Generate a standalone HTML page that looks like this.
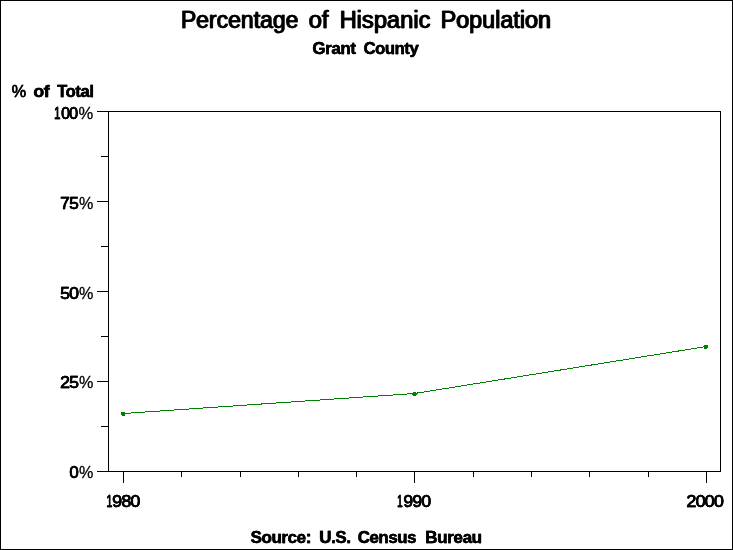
<!DOCTYPE html>
<html>
<head>
<meta charset="utf-8">
<title>Percentage of Hispanic Population</title>
<style>
html,body{margin:0;padding:0;background:#fff;}
body{width:733px;height:550px;overflow:hidden;position:relative;font-family:"Liberation Sans",sans-serif;}
svg{position:absolute;left:0;top:0;display:block;}
text{font-family:"Liberation Sans",sans-serif;fill:#000;stroke-linejoin:round;}
.t{font-size:23.3px;stroke:#000;stroke-width:0.5px;}
.b{font-size:16.5px;font-weight:bold;stroke:#000;stroke-width:0.3px;letter-spacing:-0.4px;}
.n{font-size:16.5px;stroke:#000;stroke-width:0.5px;letter-spacing:-0.8px;}
.p{font-size:16.5px;stroke:#000;stroke-width:0.35px;}
.q{font-size:16.5px;stroke:#000;stroke-width:0.3px;}
</style>
</head>
<body>
<svg width="733" height="550" viewBox="0 0 733 550">
  <defs><filter id="gs" x="0" y="0" width="733" height="550" filterUnits="userSpaceOnUse" color-interpolation-filters="sRGB"><feColorMatrix type="saturate" values="0"/></filter></defs>
  <!-- outer border -->
  <rect x="0.5" y="0.5" width="732" height="549" fill="#fff" stroke="#000" stroke-width="1" shape-rendering="crispEdges"/>
  <!-- plot frame and ticks -->
  <g stroke="#000" stroke-width="1" fill="none" shape-rendering="crispEdges">
    <rect x="108.5" y="111.5" width="612" height="360"/>
    <path d="M97 111.5H108 M97 201.5H108 M97 291.5H108 M97 381.5H108 M97 471.5H108"/>
    <path d="M101 156.5H108 M101 246.5H108 M101 336.5H108 M101 426.5H108"/>
    <path d="M123.5 472V483 M414.5 472V483 M706.5 472V483"/>
    <path d="M181.5 472V477 M240.5 472V477 M298.5 472V477 M356.5 472V477 M473.5 472V477 M531.5 472V477 M589.5 472V477 M648.5 472V477"/>
  </g>
  <!-- data line and markers -->
  <g shape-rendering="crispEdges">
    <polyline points="123.5,413.5 414.5,393.5 706.5,346.5" fill="none" stroke="#008000" stroke-width="1"/>
    <path fill="#008000" d="M121 412h4v4h-3v-1h-1z M413 392h3v1h1v2h-1v1h-3v-1h-1v-2h1z M704 345h4v3h-1v1h-3z"/>
  </g>
  <g filter="url(#gs)">
  <text class="t" x="180.42" y="28.00" textLength="117.71" lengthAdjust="spacingAndGlyphs">Percentage</text>
  <text class="t" x="181.22" y="28.00" textLength="117.71" lengthAdjust="spacingAndGlyphs">Percentage</text>
  <text class="t" x="308.24" y="28.00" textLength="19.92" lengthAdjust="spacingAndGlyphs">of</text>
  <text class="t" x="309.04" y="28.00" textLength="19.92" lengthAdjust="spacingAndGlyphs">of</text>
  <text class="t" x="339.18" y="28.00" textLength="90.84" lengthAdjust="spacingAndGlyphs">Hispanic</text>
  <text class="t" x="339.98" y="28.00" textLength="90.84" lengthAdjust="spacingAndGlyphs">Hispanic</text>
  <text class="t" x="440.27" y="28.00" textLength="110.33" lengthAdjust="spacingAndGlyphs">Population</text>
  <text class="t" x="441.07" y="28.00" textLength="110.33" lengthAdjust="spacingAndGlyphs">Population</text>
  <text class="b" x="312.27" y="54.00" textLength="43.24" lengthAdjust="spacingAndGlyphs">Grant</text>
  <text class="b" x="312.57" y="54.00" textLength="43.24" lengthAdjust="spacingAndGlyphs">Grant</text>
  <text class="b" x="363.41" y="54.00" textLength="54.81" lengthAdjust="spacingAndGlyphs">County</text>
  <text class="b" x="363.71" y="54.00" textLength="54.81" lengthAdjust="spacingAndGlyphs">County</text>
  <text class="p" x="11.49" y="97.00" textLength="14.54" lengthAdjust="spacingAndGlyphs">%</text>
  <text class="p" x="11.64" y="97.00" textLength="14.54" lengthAdjust="spacingAndGlyphs">%</text>
  <text class="b" x="33.25" y="97.00" textLength="15.83" lengthAdjust="spacingAndGlyphs">of</text>
  <text class="b" x="33.55" y="97.00" textLength="15.83" lengthAdjust="spacingAndGlyphs">of</text>
  <text class="b" x="57.05" y="97.00" textLength="36.31" lengthAdjust="spacingAndGlyphs">Total</text>
  <text class="b" x="57.35" y="97.00" textLength="36.31" lengthAdjust="spacingAndGlyphs">Total</text>
  <text class="n" x="54.04" y="119.00" textLength="5.78" lengthAdjust="spacingAndGlyphs">1</text>
  <text class="n" x="54.29" y="119.00" textLength="5.78" lengthAdjust="spacingAndGlyphs">1</text>
  <text class="n" x="60.92" y="119.00" textLength="16.36" lengthAdjust="spacingAndGlyphs">00</text>
  <text class="n" x="61.17" y="119.00" textLength="16.36" lengthAdjust="spacingAndGlyphs">00</text>
  <text class="q" x="78.49" y="119.00" textLength="14.73" lengthAdjust="spacingAndGlyphs">%</text>
  <text class="n" x="60.03" y="209.00" textLength="17.77" lengthAdjust="spacingAndGlyphs">75</text>
  <text class="n" x="60.28" y="209.00" textLength="17.77" lengthAdjust="spacingAndGlyphs">75</text>
  <text class="q" x="79.07" y="209.00" textLength="14.35" lengthAdjust="spacingAndGlyphs">%</text>
  <text class="n" x="59.97" y="299.00" textLength="17.97" lengthAdjust="spacingAndGlyphs">50</text>
  <text class="n" x="60.22" y="299.00" textLength="17.97" lengthAdjust="spacingAndGlyphs">50</text>
  <text class="q" x="79.07" y="299.00" textLength="14.35" lengthAdjust="spacingAndGlyphs">%</text>
  <text class="n" x="59.91" y="388.00" textLength="17.96" lengthAdjust="spacingAndGlyphs">25</text>
  <text class="n" x="60.16" y="388.00" textLength="17.96" lengthAdjust="spacingAndGlyphs">25</text>
  <text class="q" x="79.07" y="388.00" textLength="14.35" lengthAdjust="spacingAndGlyphs">%</text>
  <text class="n" x="69.16" y="478.00" textLength="8.55" lengthAdjust="spacingAndGlyphs">0</text>
  <text class="n" x="69.41" y="478.00" textLength="8.55" lengthAdjust="spacingAndGlyphs">0</text>
  <text class="q" x="79.07" y="478.00" textLength="14.35" lengthAdjust="spacingAndGlyphs">%</text>
  <text class="n" x="106.31" y="507.00" textLength="5.55" lengthAdjust="spacingAndGlyphs">1</text>
  <text class="n" x="106.56" y="507.00" textLength="5.55" lengthAdjust="spacingAndGlyphs">1</text>
  <text class="n" x="112.00" y="507.00" textLength="27.41" lengthAdjust="spacingAndGlyphs">980</text>
  <text class="n" x="112.25" y="507.00" textLength="27.41" lengthAdjust="spacingAndGlyphs">980</text>
  <text class="n" x="397.09" y="507.00" textLength="5.03" lengthAdjust="spacingAndGlyphs">1</text>
  <text class="n" x="397.34" y="507.00" textLength="5.03" lengthAdjust="spacingAndGlyphs">1</text>
  <text class="n" x="403.38" y="507.00" textLength="26.74" lengthAdjust="spacingAndGlyphs">990</text>
  <text class="n" x="403.63" y="507.00" textLength="26.74" lengthAdjust="spacingAndGlyphs">990</text>
  <text class="n" x="686.33" y="507.00" textLength="36.58" lengthAdjust="spacingAndGlyphs">2000</text>
  <text class="n" x="686.58" y="507.00" textLength="36.58" lengthAdjust="spacingAndGlyphs">2000</text>
  <text class="b" x="250.44" y="543.00" textLength="60.42" lengthAdjust="spacingAndGlyphs">Source:</text>
  <text class="b" x="250.74" y="543.00" textLength="60.42" lengthAdjust="spacingAndGlyphs">Source:</text>
  <text class="b" x="319.12" y="543.00" textLength="31.32" lengthAdjust="spacingAndGlyphs">U.S.</text>
  <text class="b" x="319.42" y="543.00" textLength="31.32" lengthAdjust="spacingAndGlyphs">U.S.</text>
  <text class="b" x="357.62" y="543.00" textLength="58.28" lengthAdjust="spacingAndGlyphs">Census</text>
  <text class="b" x="357.92" y="543.00" textLength="58.28" lengthAdjust="spacingAndGlyphs">Census</text>
  <text class="b" x="425.02" y="543.00" textLength="56.56" lengthAdjust="spacingAndGlyphs">Bureau</text>
  <text class="b" x="425.32" y="543.00" textLength="56.56" lengthAdjust="spacingAndGlyphs">Bureau</text>
  </g>
</svg>
</body>
</html>
